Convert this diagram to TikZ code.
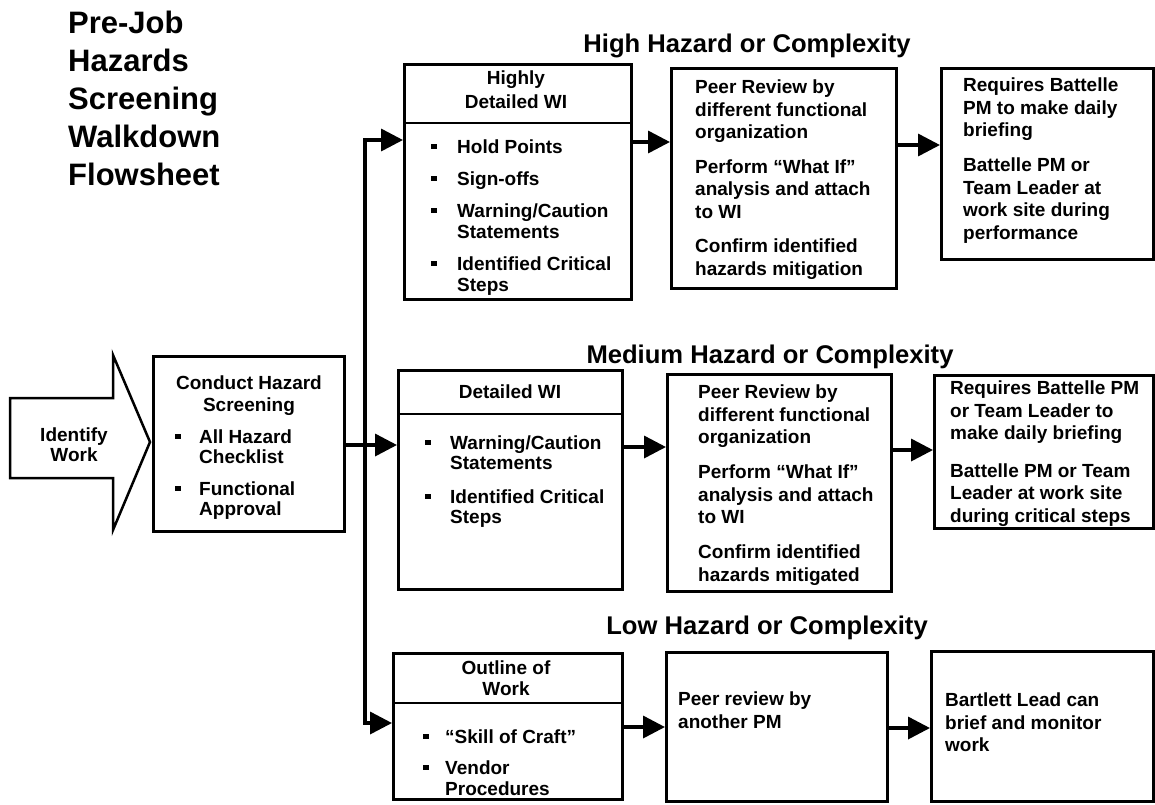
\documentclass[tikz,border=0pt]{standalone}
\usepackage{fontspec}
\setmainfont{Liberation Sans}
\usetikzlibrary{arrows.meta}
\newcommand{\blt}[1][25pt]{\makebox[#1][l]{\rule[4.5pt]{5.5pt}{5.5pt}}}
\newcommand{\ind}[1][25pt]{\hspace*{#1}}

\begin{document}
\begin{tikzpicture}[x=1pt,y=-1pt,
  box/.style={draw,line width=2.5pt,inner sep=0pt,anchor=north west},
  txt/.style={inner sep=0pt,align=left,anchor=north west,
    font=\fontsize{19}{22.5}\selectfont\bfseries},
  head/.style={inner sep=0pt,align=center,anchor=north,
    font=\fontsize{19}{22.5}\selectfont\bfseries},
  level/.style={inner sep=0pt,font=\fontsize{25.6}{30}\selectfont\bfseries},
  divline/.style={line width=2pt},
  flow/.style={-{Triangle[length=22pt,width=22pt]},line width=3.5pt}]
\path[fill=white,use as bounding box] (0,0) rectangle (1155,804);

% title
\node[inner sep=0pt,anchor=north west,align=left,
  font=\fontsize{31}{38}\selectfont\bfseries] (title) at (68,11)
  {Pre-Job\\Hazards\\Screening\\Walkdown\\Flowsheet};

% identify work
\draw[line width=2.5pt] (10,398) -- (113,398) -- (113,355) -- (150,442)
  -- (113,530) -- (113,478) -- (10,478) -- cycle;
\node[head,font=\fontsize{19}{20}\selectfont\bfseries] (idtext) at (74,428) {Identify\\Work};

% hazard screening
\node[box,minimum width=191pt,minimum height=175pt] (screen) at (152,355) {};
\node[head,font=\fontsize{19}{22}\selectfont\bfseries] (screenhd) at (249,376) {Conduct Hazard\\Screening};
\node[txt,font=\fontsize{19}{20}\selectfont\bfseries] (screenls) at (175,430)
  {\blt[24pt]All Hazard\\\ind[24pt]Checklist\\[12pt]\blt[24pt]Functional\\\ind[24pt]Approval};

% high hazard row
\node[level] (hightitle) at (747,45.5) {High Hazard or Complexity};
\node[box,minimum width=227pt,minimum height=235pt] (hb1) at (403,63) {};
\draw[divline] (hb1.west |- 0,123) -- (hb1.east |- 0,123);
\node[head,font=\fontsize{19}{24}\selectfont\bfseries] (hb1hd) at (516,71) {Highly\\Detailed WI};
\node[txt,font=\fontsize{19}{21}\selectfont\bfseries] (hb1ls) at (431,140)
  {\blt[26pt]Hold Points\\[11pt]\blt[26pt]Sign-offs\\[11pt]\blt[26pt]Warning/Caution\\\ind[26pt]Statements\\[11pt]\blt[26pt]Identified Critical\\\ind[26pt]Steps};
\node[box,minimum width=225pt,minimum height=220pt] (hb2) at (670,67) {};
\node[txt] (hb2tx) at (695,80)
  {Peer Review by\\different functional\\organization\\[12pt]Perform “What If”\\analysis and attach\\to WI\\[12pt]Confirm identified\\hazards mitigation};
\node[box,minimum width=212pt,minimum height=191pt] (hb3) at (940,67) {};
\node[txt] (hb3tx) at (963,78)
  {Requires Battelle\\PM to make daily\\briefing\\[12.5pt]Battelle PM or\\Team Leader at\\work site during\\performance};

% medium hazard row
\node[level] (medtitle) at (770,356.5) {Medium Hazard or Complexity};
\node[box,minimum width=224pt,minimum height=219pt] (mb1) at (397,369) {};
\draw[divline] (mb1.west |- 0,414) -- (mb1.east |- 0,414);
\node[head] (mb1hd) at (510,385) {Detailed WI};
\node[txt,font=\fontsize{19}{20}\selectfont\bfseries] (mb1ls) at (425,436)
  {\blt Warning/Caution\\\ind Statements\\[14pt]\blt Identified Critical\\\ind Steps};
\node[box,minimum width=224pt,minimum height=217pt] (mb2) at (666,373) {};
\node[txt] (mb2tx) at (698,385)
  {Peer Review by\\different functional\\organization\\[12.5pt]Perform “What If”\\analysis and attach\\to WI\\[12.5pt]Confirm identified\\hazards mitigated};
\node[box,minimum width=219pt,minimum height=153pt] (mb3) at (933,374) {};
\node[txt] (mb3tx) at (950,381)
  {Requires Battelle PM\\or Team Leader to\\make daily briefing\\[15pt]Battelle PM or Team\\Leader at work site\\during critical steps};

% low hazard row
\node[level] (lowtitle) at (767,627.5) {Low Hazard or Complexity};
\node[box,minimum width=229pt,minimum height=146pt] (lb1) at (392,652) {};
\draw[divline] (lb1.west |- 0,703) -- (lb1.east |- 0,703);
\node[head,font=\fontsize{19}{21}\selectfont\bfseries] (lb1hd) at (506,661) {Outline of\\Work};
\node[txt,font=\fontsize{19}{21}\selectfont\bfseries] (lb1ls) at (423,730)
  {\blt[22pt]“Skill of Craft”\\[10pt]\blt[22pt]Vendor\\\ind[22pt]Procedures};
\node[box,minimum width=221pt,minimum height=149pt] (lb2) at (665,651) {};
\node[txt] (lb2tx) at (678,692) {Peer review by\\another PM};
\node[box,minimum width=222pt,minimum height=150pt] (lb3) at (930,650) {};
\node[txt] (lb3tx) at (945,693) {Bartlett Lead can\\brief and monitor\\work};

% connectors
\coordinate (fork) at (365,445);
\draw[flow] (screen.east |- fork) -- (mb1.west |- fork);
\draw[flow] (fork) |- (hb1.west |- 0,140);
\draw[flow] (fork) |- (lb1.west |- 0,723);
\draw[flow] (hb1.east |- 0,142) -- (hb2.west |- 0,142);
\draw[flow] (hb2.east |- 0,145) -- (hb3.west |- 0,145);
\draw[flow] (mb1.east |- 0,447) -- (mb2.west |- 0,447);
\draw[flow] (mb2.east |- 0,450) -- (mb3.west |- 0,450);
\draw[flow] (lb1.east |- 0,727) -- (lb2.west |- 0,727);
\draw[flow] (lb2.east |- 0,728) -- (lb3.west |- 0,728);
\end{tikzpicture}
\end{document}
